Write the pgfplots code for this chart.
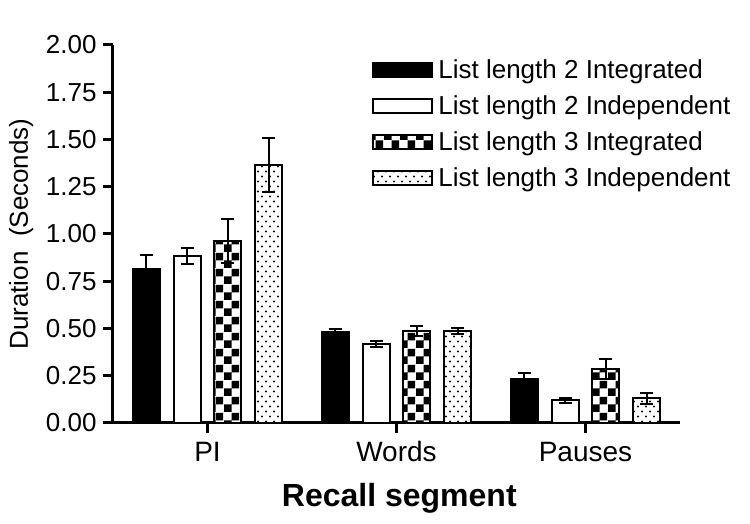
\documentclass[border=0pt]{standalone}
\usepackage{fontspec}
\setmainfont{Liberation Sans}
\usepackage{pgfplots}
\pgfplotsset{compat=1.18}
\usetikzlibrary{patterns}

\pgfdeclarepatternformonly{mychecker}{\pgfpointorigin}{\pgfqpoint{8pt}{8pt}}{\pgfqpoint{8pt}{8pt}}{%
  \pgfpathrectangle{\pgfpointorigin}{\pgfqpoint{4pt}{4pt}}%
  \pgfpathrectangle{\pgfqpoint{4pt}{4pt}}{\pgfqpoint{4pt}{4pt}}%
  \pgfusepath{fill}%
}
\pgfdeclarepatternformonly{mydots}{\pgfqpoint{-1pt}{-1pt}}{\pgfqpoint{5pt}{6pt}}{\pgfqpoint{4pt}{5pt}}{%
  \pgfpathcircle{\pgfqpoint{1pt}{1.25pt}}{0.55pt}%
  \pgfpathcircle{\pgfqpoint{3pt}{3.75pt}}{0.55pt}%
  \pgfusepath{fill}%
}

\pgfplotsset{
  mylegimg/.style={legend image code/.code={%
      \draw[##1,line width=1pt] (0pt,-2pt) rectangle (29.5pt,5pt);}},
}

\begin{document}
\begin{tikzpicture}
\begin{axis}[
  scale only axis,
  width=283.5pt, height=189pt,
  xmin=-0.5, xmax=2.5, ymin=0, ymax=2,
  enlargelimits=false,
  axis x line*=bottom, axis y line*=left,
  tick pos=left,
  axis line style={line width=1.5pt, black},
  ybar=6.85pt, bar width=13.5pt,
  xtick={0,1,2}, xticklabels={PI,Words,Pauses},
  ytick={0,0.25,0.5,0.75,1,1.25,1.5,1.75,2},
  yticklabel={\pgfmathprintnumber[fixed,fixed zerofill,precision=2,assume math mode=true]{\tick}},
  tick align=outside,
  major tick length=5pt,
  tick style={line width=1.5pt, black},
  yticklabel style={font=\fontsize{13}{15}\selectfont, inner sep=0pt, xshift=-3pt},
  xticklabel style={font=\fontsize{14}{16}\selectfont, text height=0.75em, text depth=0pt, yshift=-3pt},
  ylabel={Duration~~(Seconds)},
  ylabel style={at={(axis description cs:-0.150,0.5)}, anchor=base, rotate=0, font=\fontsize{13}{15}\selectfont},
  xlabel={\bfseries Recall segment},
  xlabel style={at={(axis description cs:0.505,-0.222)}, anchor=base, font=\fontsize{16}{18}\selectfont},
  legend style={at={(axis description cs:0.4568,0.9576)}, anchor=north west,
    draw=none, fill=none, inner sep=0pt,
    font=\fontsize{13}{15}\selectfont, row sep=6pt,
    nodes={inner sep=1pt, text height=0.75em, text depth=0.25em},
    /tikz/every odd column/.append style={column sep=1.5pt}},
  legend cell align=left,
  error bars/y dir=both, error bars/y explicit,
  error bars/error bar style={line width=1pt, black},
  error bars/error mark options={rotate=90, mark size=3.25pt, line width=1pt, black},
]
\addplot[draw=black, line width=1pt, fill=black, mylegimg] coordinates {
  (0,0.815) +- (0,0.075)
  (1,0.480) +- (0,0.017)
  (2,0.233) +- (0,0.030)
};
\addplot[draw=black, line width=1pt, fill=white, mylegimg] coordinates {
  (0,0.884) +- (0,0.043)
  (1,0.418) +- (0,0.014)
  (2,0.120) +- (0,0.012)
};
\addplot[draw=black, line width=1pt, fill=white, postaction={pattern=mychecker}, mylegimg] coordinates {
  (0,0.963) +- (0,0.117)
  (1,0.487) +- (0,0.026)
  (2,0.286) +- (0,0.055)
};
\addplot[draw=black, line width=1pt, fill=white, postaction={pattern=mydots}, mylegimg] coordinates {
  (0,1.365) +- (0,0.143)
  (1,0.487) +- (0,0.015)
  (2,0.130) +- (0,0.030)
};
\legend{List length 2 Integrated, List length 2 Independent, List length 3 Integrated, List length 3 Independent}
\coordinate (bbl) at (axis description cs:-0.19929,-0.26720);
\coordinate (btr) at (axis description cs:1.12346,1.11905);
\end{axis}
\path (bbl) rectangle (btr);
\end{tikzpicture}
\end{document}
